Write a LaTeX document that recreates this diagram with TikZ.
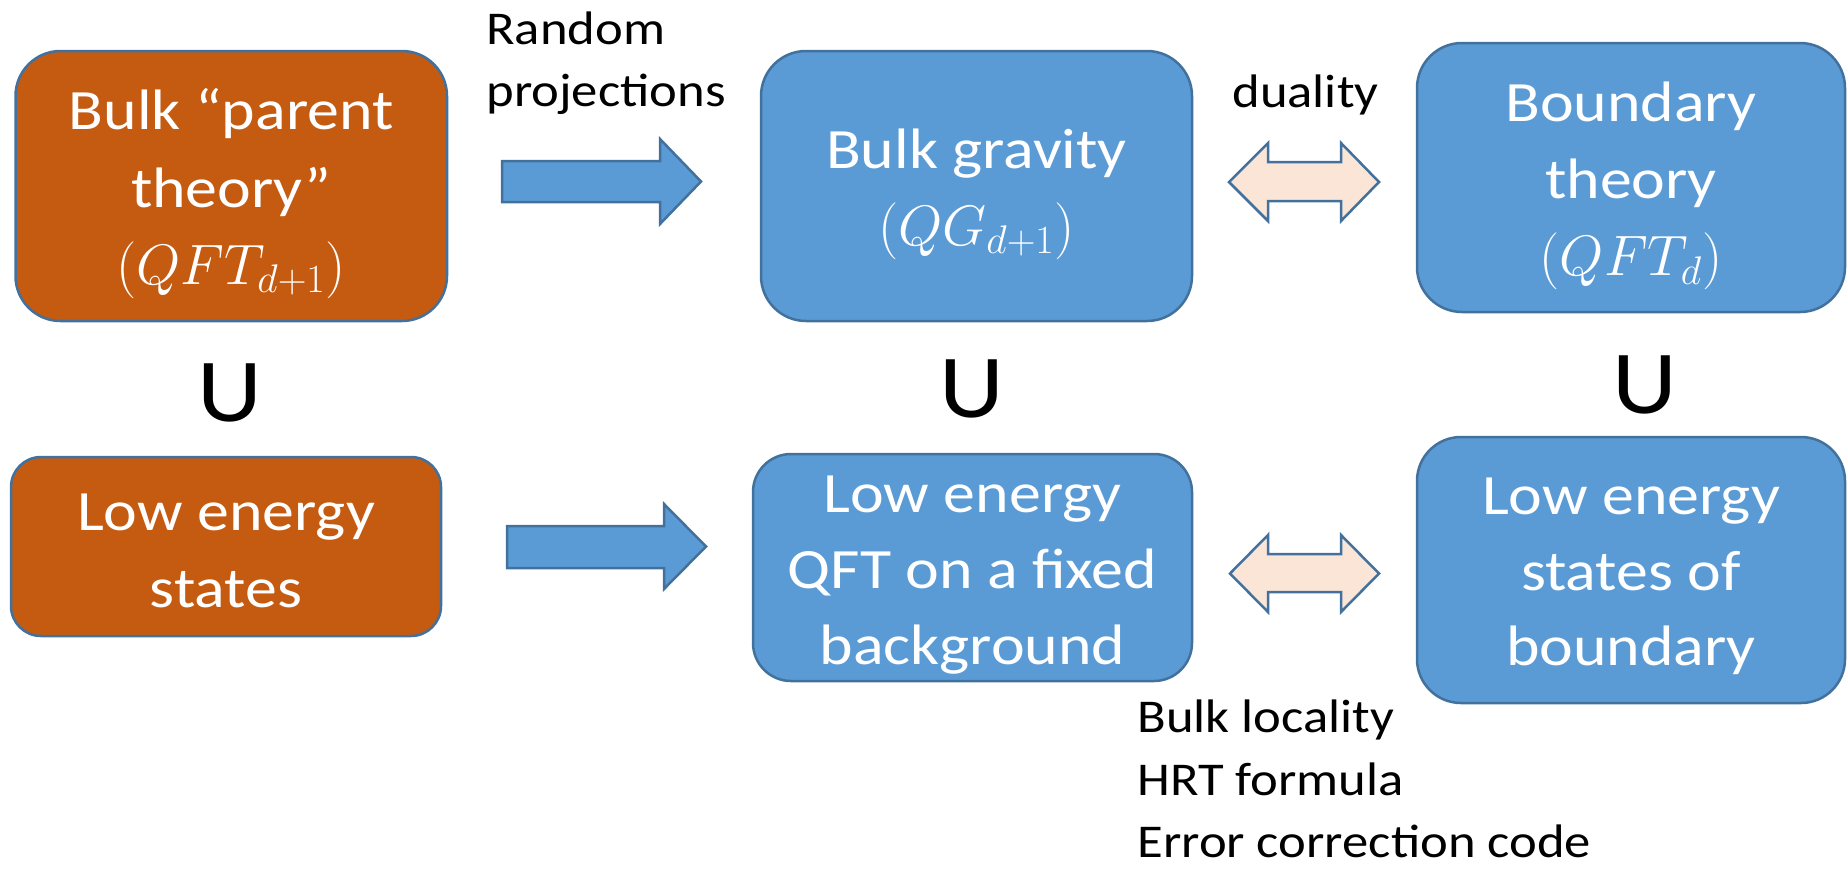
\RequirePackage{fix-cm}
\documentclass[tikz,border=0pt]{standalone}
\usepackage{fontspec}
\setmainfont{Carlito}[FakeStretch=1.12]
\usetikzlibrary{calc}
\definecolor{orng}{HTML}{C55A11}
\definecolor{blu}{HTML}{5B9BD5}
\definecolor{bord}{HTML}{41719C}
\definecolor{pale}{HTML}{FBE5D6}
\begin{document}
\begin{tikzpicture}[x=0.5pt,y=-0.5pt,
  box/.style={draw=bord, line width=1.25pt, inner sep=0pt, outer sep=0pt},
  obox/.style={box, fill=orng},
  bbox/.style={box, fill=blu},
  txt/.style={text=white, font=\fontsize{28.5}{28.5}\selectfont, anchor=base, inner sep=0pt},
  lbl/.style={font=\fontsize{23.5}{23.5}\selectfont, anchor=base west, inner sep=0pt},
  cupsym/.style={font=\fontsize{45}{45}\selectfont, anchor=base, inner sep=0pt},
  blockarrow/.style={draw=bord, line width=1.25pt, fill=blu, line join=miter},
  dblarrow/.style={draw=bord, line width=1.25pt, fill=pale, line join=miter}]
\useasboundingbox (0,0) rectangle (1847,869);

% boxes
\node[obox, rounded corners=22.5pt, minimum width=215.75pt, minimum height=135pt] (A) at (231.25,186) {};
\node[bbox, rounded corners=22.5pt, minimum width=215.5pt, minimum height=135pt] (B) at (976.5,186) {};
\node[bbox, rounded corners=22.5pt, minimum width=214pt, minimum height=134.5pt] (C) at (1631,177.5) {};
\node[obox, rounded corners=15pt, minimum width=215pt, minimum height=89.5pt] (D) at (226,546.5) {};
\node[bbox, rounded corners=19pt, minimum width=219.5pt, minimum height=113.5pt] (E) at (972.5,567.5) {};
\node[bbox, rounded corners=22pt, minimum width=214pt, minimum height=133pt] (F) at (1631,570) {};

% box texts
\node[txt] (A1) at ($(A.center)+(0,-57)$) {Bulk “parent};
\node[txt] (A2) at ($(A.center)+(0,21)$) {theory”};
\node[txt] (A3) at ($(A.center)+(0,98)$) {$(QFT_{d+1})$};
\node[txt] (B1) at ($(B.center)+(0,-18)$) {Bulk gravity};
\node[txt] (B2) at ($(B.center)+(0,59)$) {$(QG_{d+1})$};
\node[txt] (C1) at ($(C.center)+(0,-56)$) {Boundary};
\node[txt] (C2) at ($(C.center)+(0,21)$) {theory};
\node[txt] (C3) at ($(C.center)+(0,98)$) {$(QFT_{d})$};
\node[txt] (D1) at ($(D.center)+(0,-16)$) {Low energy};
\node[txt] (D2) at ($(D.center)+(0,61)$) {states};
\node[txt] (E1) at ($(E.center)+(0,-55)$) {Low energy};
\node[txt] (E2) at ($(E.center)+(0,21)$) {QFT on a fixed};
\node[txt] (E3) at ($(E.center)+(0,97)$) {background};
\node[txt] (F1) at ($(F.center)+(0,-56)$) {Low energy};
\node[txt] (F2) at ($(F.center)+(0,20)$) {states of};
\node[txt] (F3) at ($(F.center)+(0,95)$) {boundary};

% containment symbols
\node[cupsym] (UA) at (230,421) {U};
\node[cupsym] (UB) at (972,417) {U};
\node[cupsym] (UC) at (1645,413) {U};

% labels
\node[lbl] (rp1) at (486,44) {Random};
\node[lbl] (rp2) at (486,106) {projections};
\node[lbl] (dual) at (1232,107) {duality};
\node[lbl] (n1) at (1137,732) {Bulk locality};
\node[lbl] (n2) at (1137,795) {HRT formula};
\node[lbl] (n3) at (1137,857) {Error correction code};

% block arrows
\draw[blockarrow] (502,161) -- (660,161) -- (660,139) -- (701,181.5) -- (660,224) -- (660,202) -- (502,202) -- cycle;
\draw[blockarrow] (507,526) -- (664,526) -- (664,504) -- (706,546.5) -- (664,589) -- (664,568) -- (507,568) -- cycle;
\draw[dblarrow] (1229,182) -- (1268,143) -- (1268,162) -- (1341,162) -- (1341,143) -- (1379,182) -- (1341,221) -- (1341,201) -- (1268,201) -- (1268,221) -- cycle;
\draw[dblarrow] (1230,573.5) -- (1268,535) -- (1268,554) -- (1341,554) -- (1341,535) -- (1379,573.5) -- (1341,612) -- (1341,592) -- (1268,592) -- (1268,612) -- cycle;
\end{tikzpicture}
\end{document}
